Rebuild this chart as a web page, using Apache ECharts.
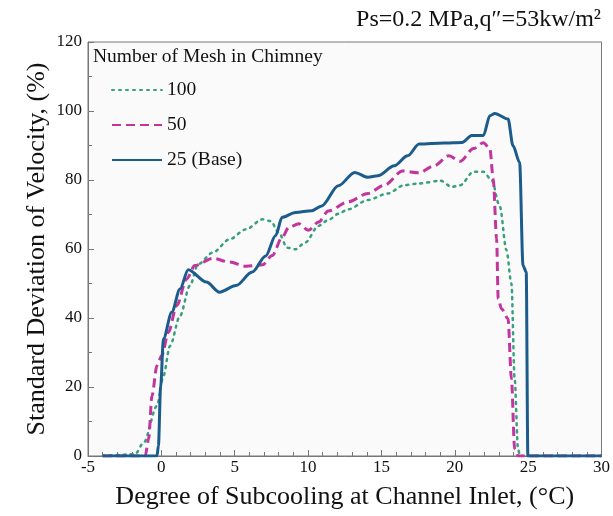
<!DOCTYPE html>
<html><head><meta charset="utf-8">
<script src="https://cdn.jsdelivr.net/npm/echarts@6/dist/echarts.min.js"></script>
<style>html,body{margin:0;padding:0;background:#fff}#c{width:613px;height:516px}</style>
</head><body><div id="c"></div>
<script>
var seriesNames = ['100', '50', '25 (Base)'];
var xTicks = [-5, 0, 5, 10, 15, 20, 25, 30];
var yTicks = [0, 20, 40, 60, 80, 100, 120];

var mesh100X = [-4, -1.8, -1.2, -0.3, 0.14, 0.59, 1.27, 1.94, 2.5, 3.52, 4.64, 5.77, 6.89, 7.45, 8.01, 8.57, 9.14, 9.81, 10.71, 11.38, 12.06, 12.73, 14.08, 15.43, 16.55, 17.57, 19.02, 19.81, 20.37, 21.27, 21.95, 22.51, 23.07, 23.52, 23.86, 24.08, 24.31, 24.45, 30];
var mesh100Y = [0, 0.5, 3.9, 14.5, 23.2, 31.9, 40.6, 49.3, 55.6, 59, 62.8, 65.7, 68.6, 68.1, 64.7, 60.4, 59.9, 61.9, 66.7, 68.4, 70.2, 71.5, 74.2, 76.1, 78.5, 79, 79.8, 78, 78.5, 82.4, 82.4, 80, 72.3, 59.7, 50, 22.4, 2, 0, 0];

var mesh50X = [-4, -1.1, -0.87, -0.64, -0.3, 0.03, 0.48, 1.05, 1.72, 2.28, 3.52, 4.64, 5.77, 6.89, 7.56, 8.23, 8.69, 9.36, 10.03, 10.71, 11.38, 12.73, 14.08, 15.2, 16.44, 17.57, 18.58, 19.59, 20.37, 21.27, 21.95, 22.39, 22.62, 22.85, 22.96, 23.18, 23.63, 23.86, 24.08, 24.31, 30];
var mesh50Y = [0, 0, 4.9, 17.5, 26.2, 29.1, 35.9, 43.6, 51.3, 55.2, 57.3, 56.2, 55, 55.4, 58.1, 63.4, 66.3, 67.3, 65.4, 67.8, 71, 73.7, 76.1, 78.5, 82.6, 82.1, 84.1, 87, 85.4, 89.1, 90.8, 89.1, 80.4, 63, 45.6, 42.7, 39.8, 22.4, 2, 0, 0];

var mesh25X = [-4, -0.3, -0.2, -0.05, 0.14, 0.71, 1.27, 1.83, 3.07, 3.96, 5.09, 6.19, 7.11, 7.79, 8.23, 9.14, 10.26, 10.93, 12.06, 13.18, 14.08, 14.75, 15.88, 16.78, 17.57, 19.25, 20.49, 21.16, 21.95, 22.39, 22.73, 23.63, 23.97, 24.42, 24.65, 24.87, 24.98, 30];
var mesh25Y = [0, 0, 3, 20, 34, 41.7, 48.4, 54, 50.4, 47.5, 49.4, 53.3, 58, 63.9, 69.2, 70.6, 71.1, 72.5, 78.3, 82.2, 80.8, 81.2, 84.1, 87, 90.4, 90.7, 90.9, 92.9, 92.9, 98.6, 99.3, 97.7, 89.9, 85.1, 55.2, 53.3, 0, 0];

function pairs(xs, ys) { return xs.map(function (x, i) { return [x, ys[i]]; }); }

var serif = 'Liberation Serif, Times New Roman, serif';
var chart = echarts.init(document.getElementById('c'));
chart.setOption({
  backgroundColor: '#ffffff',
  animation: false,
  title: {
    text: 'Ps=0.2 MPa,q\u2033=53kw/m\u00b2',
    right: 7, top: 3,
    textStyle: { fontFamily: serif, fontSize: 24, fontWeight: 'normal', color: '#111' }
  },
  graphic: [{
    type: 'text', left: 93, top: 47,
    style: { text: 'Number of Mesh in Chimney', font: '19.5px "Liberation Serif"', fill: '#111' }
  }],
  legend: {
    orient: 'vertical', left: 106, top: 75,
    itemWidth: 50, itemHeight: 14, itemGap: 15,
    itemStyle: { opacity: 0 },
    textStyle: { fontFamily: serif, fontSize: 19.5, color: '#111' },
    data: seriesNames
  },
  grid: { left: 88, right: 7, top: 42, bottom: 60, backgroundColor: '#fafafa', show: true, borderColor: '#777', borderWidth: 1 },
  xAxis: {
    type: 'value', min: xTicks[0], max: xTicks[xTicks.length - 1], interval: 5,
    name: 'Degree of Subcooling at Channel Inlet, (\u00b0C)', nameLocation: 'middle', nameGap: 28,
    nameMoveOverlap: false,
    nameTextStyle: { fontFamily: serif, fontSize: 26, color: '#111' },
    axisLine: { onZero: false, lineStyle: { color: '#777' } },
    axisTick: { inside: true, length: 6, lineStyle: { color: '#777' } },
    minorTick: { show: true, splitNumber: 5, length: 4, lineStyle: { color: '#777' } },
    axisLabel: { fontFamily: serif, fontSize: 17, color: '#111', margin: 3 },
    splitLine: { show: false }
  },
  yAxis: {
    type: 'value', min: yTicks[0], max: yTicks[yTicks.length - 1], interval: 20,
    name: 'Standard Deviation of Velocity, (%)', nameLocation: 'middle', nameGap: 38,
    nameMoveOverlap: false,
    nameTextStyle: { fontFamily: serif, fontSize: 26, color: '#111' },
    axisLine: { show: true, onZero: false, lineStyle: { color: '#777' } },
    axisTick: { inside: true, length: 6, lineStyle: { color: '#777' } },
    minorTick: { show: true, splitNumber: 2, length: 4, lineStyle: { color: '#777' } },
    axisLabel: { fontFamily: serif, fontSize: 17, color: '#111', margin: 6 },
    splitLine: { show: false }
  },
  series: [
    { name: seriesNames[0], type: 'line', data: pairs(mesh100X, mesh100Y), showSymbol: false, symbol: 'none',
      smooth: 0.3, smoothMonotone: 'x', z: 3,
      lineStyle: { color: '#3a9f7f', width: 2.5, type: [2, 5], cap: 'round' }, itemStyle: { color: '#3a9f7f' } },
    { name: seriesNames[1], type: 'line', data: pairs(mesh50X, mesh50Y), showSymbol: false, symbol: 'none',
      smooth: 0.3, smoothMonotone: 'x', z: 4,
      lineStyle: { color: '#c2359f', width: 3, type: [9, 5] }, itemStyle: { color: '#c2359f' } },
    { name: seriesNames[2], type: 'line', data: pairs(mesh25X, mesh25Y), showSymbol: false, symbol: 'none',
      smooth: 0.3, smoothMonotone: 'x', z: 5,
      lineStyle: { color: '#1b5c8c', width: 3 }, itemStyle: { color: '#1b5c8c' } }
  ]
});
</script></body></html>
